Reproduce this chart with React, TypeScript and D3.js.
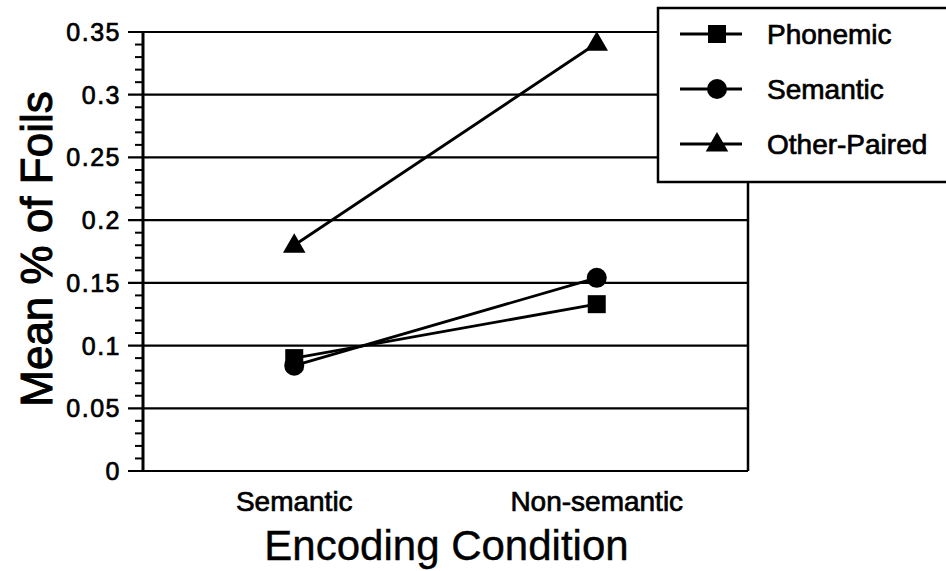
import React from "react";
import * as d3 from "d3";

const categories = ["Semantic", "Non-semantic"];
const seriesNames = ["Phonemic", "Semantic", "Other-Paired"];
const phonemic = [0.09, 0.133];
const semantic = [0.084, 0.154];
const otherPaired = [0.18, 0.341];
const yTicks = [0, 0.05, 0.1, 0.15, 0.2, 0.25, 0.3, 0.35];
const yTickLabels = ["0", "0.05", "0.1", "0.15", "0.2", "0.25", "0.3", "0.35"];
const markerShapes = ["square", "circle", "triangle"];

const W = 946;
const H = 571;
const left = 143;
const right = 748;
const top = 32;
const bottom = 471;
const font = "'Liberation Sans', Arial, Helvetica, sans-serif";
const heavy = { stroke: "#000", strokeWidth: 0.7 };

function Marker({ shape, x, y }: { shape: string; x: number; y: number }) {
  if (shape === "square") return <rect x={x - 9} y={y - 9} width={18} height={18} fill="#000" />;
  if (shape === "circle") return <circle cx={x} cy={y} r={10} fill="#000" />;
  const s = d3.symbol().type(d3.symbolTriangle).size(220)();
  return <path d={s || ""} transform={`translate(${x},${y + 1})`} fill="#000" />;
}

export default function App() {
  const x = d3.scalePoint<string>().domain(categories).range([left, right]).padding(0.5);
  const y = d3.scaleLinear().domain([0, 0.35]).range([bottom, top]);
  const series = [phonemic, semantic, otherPaired];
  const minor = d3.range(0, 0.3501, 0.01).filter((v) => Math.abs(v / 0.05 - Math.round(v / 0.05)) > 1e-6);
  const line = d3
    .line<number>()
    .x((_, i) => x(categories[i]) as number)
    .y((d) => y(d));

  return (
    <svg width={W} height={H} style={{ position: "absolute", left: 0, top: 0, background: "#fff" }}>
      <rect x={0} y={0} width={W} height={H} fill="#fff" />
      {yTicks.map((t) => (
        <line key={"g" + t} x1={128} x2={right} y1={y(t)} y2={y(t)} stroke="#000" strokeWidth={2.2} />
      ))}
      {minor.map((t) => (
        <line key={"m" + t} x1={135} x2={left} y1={y(t)} y2={y(t)} stroke="#000" strokeWidth={2} />
      ))}
      <line x1={left} x2={left} y1={top} y2={bottom} stroke="#000" strokeWidth={3} />
      <line x1={right} x2={right} y1={top} y2={bottom} stroke="#000" strokeWidth={2.5} />
      {yTicks.map((t, i) => (
        <text
          key={"l" + t}
          x={121}
          y={y(t)}
          dy="0.36em"
          textAnchor="end"
          fontFamily={font}
          fontSize={25}
          letterSpacing={1.5}
          {...heavy}
        >
          {yTickLabels[i]}
        </text>
      ))}
      {series.map((s, i) => (
        <path key={"s" + i} d={line(s) || ""} fill="none" stroke="#000" strokeWidth={2.8} />
      ))}
      {series.map((s, i) =>
        s.map((v, j) => <Marker key={`p${i}-${j}`} shape={markerShapes[i]} x={x(categories[j]) as number} y={y(v)} />)
      )}
      {categories.map((c) => (
        <text key={"x" + c} x={x(c)} y={511} textAnchor="middle" fontFamily={font} fontSize={28} {...heavy}>
          {c}
        </text>
      ))}
      <text x={(left + right) / 2 + 1} y={560} textAnchor="middle" fontFamily={font} fontSize={42} stroke="#000" strokeWidth={0.4}>
        Encoding Condition
      </text>
      <text
        transform={`translate(52,249) rotate(-90)`}
        textAnchor="middle"
        fontFamily={font}
        fontSize={44}
        stroke="#000"
        strokeWidth={1}
      >
        Mean % of Foils
      </text>
      <rect x={658} y={8} width={300} height={174} fill="#fff" stroke="#000" strokeWidth={2.5} />
      {seriesNames.map((n, i) => {
        const cy = [34, 89, 144][i];
        return (
          <g key={"lg" + n}>
            <line x1={680} x2={742} y1={cy} y2={cy} stroke="#000" strokeWidth={2.8} />
            <Marker shape={markerShapes[i]} x={717} y={cy} />
            <text x={767} y={cy} dy="0.36em" fontFamily={font} fontSize={28} {...heavy}>
              {n}
            </text>
          </g>
        );
      })}
    </svg>
  );
}
